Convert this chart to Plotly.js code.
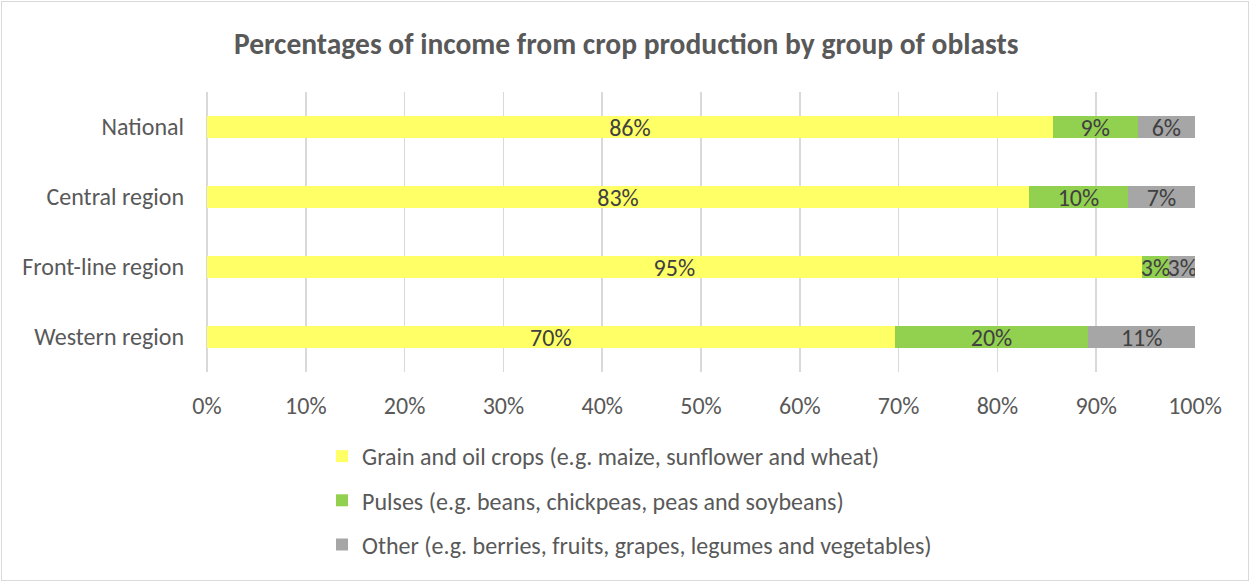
<!DOCTYPE html>
<html>
<head>
<meta charset="utf-8">
<script src="https://cdn.plot.ly/plotly-3.0.1.min.js"></script>
<style>
  html, body { margin: 0; padding: 0; background: #ffffff; }
  #wrap { position: relative; width: 1250px; height: 582px; }
  #chart { width: 1250px; height: 582px; }
  #frame { position: absolute; left: 1px; top: 1px; width: 1246px; height: 578px;
           border: 1px solid #d9d9d9; pointer-events: none; }
</style>
</head>
<body>
<div id="wrap">
  <div id="chart"></div>
  <div id="frame"></div>
</div>
<script>
const categories = ["National", "Central region", "Front-line region", "Western region"];
const grainOil = [85.6, 83.2, 94.6, 69.6];
const pulses = [8.6, 10.0, 2.8, 19.6];
const other = [5.8, 6.8, 2.6, 10.8];
const seriesNames = [
  "Grain and oil crops (e.g. maize, sunflower and wheat)",
  "Pulses (e.g. beans, chickpeas, peas and soybeans)",
  "Other (e.g. berries, fruits, grapes, legumes and vegetables)"
];
const seriesColors = ["#ffff66", "#92d050", "#a6a6a6"];
const xTickVals = [0, 10, 20, 30, 40, 50, 60, 70, 80, 90, 100];
const xTickText = ["0%", "10%", "20%", "30%", "40%", "50%", "60%", "70%", "80%", "90%", "100%"];

const FONT = "Carlito, Calibri, Lato, sans-serif";
const seriesValues = [grainOil, pulses, other];

const traces = seriesValues.map((vals, i) => ({
  type: "bar",
  orientation: "h",
  name: seriesNames[i],
  y: categories,
  x: vals,
  marker: { color: seriesColors[i], line: { width: 0 } },
  texttemplate: "%{x:.0f}%",
  textposition: "inside",
  insidetextanchor: "middle",
  constraintext: "none",
  textfont: { family: FONT, size: 24, color: "#404040" },
  legendgroup: "g" + i,
  hoverinfo: "skip"
}));

const layout = {
  width: 1250,
  height: 582,
  paper_bgcolor: "#ffffff",
  plot_bgcolor: "#ffffff",
  barmode: "stack",
  bargap: 0.686,
  margin: { l: 207, r: 55, t: 92, b: 210, pad: 0 },
  font: { family: FONT, color: "#595959", size: 24 },
  title: {
    text: "<b>Percentages of income from crop production by group of oblasts</b>",
    font: { family: FONT, size: 29.5, color: "#595959" },
    x: 0.501, xref: "container", xanchor: "center",
    y: 1 - 44 / 582, yref: "container", yanchor: "middle"
  },
  xaxis: {
    range: [0, 100],
    tickmode: "array",
    tickvals: xTickVals,
    ticktext: xTickText,
    showgrid: true,
    gridcolor: "#d9d9d9",
    gridwidth: 1.5,
    zeroline: true,
    zerolinecolor: "#d9d9d9",
    zerolinewidth: 1.5,
    showline: false,
    ticks: "",
    ticklabelstandoff: 17,
    tickfont: { family: FONT, size: 24, color: "#595959" },
    fixedrange: true
  },
  yaxis: {
    type: "category",
    autorange: "reversed",
    showgrid: false,
    zeroline: false,
    showline: false,
    ticks: "",
    ticklabelstandoff: 22,
    tickfont: { family: FONT, size: 24, color: "#595959" },
    fixedrange: true
  },
  showlegend: true,
  legend: {
    orientation: "v",
    traceorder: "grouped",
    tracegroupgap: 10,
    x: (322 - 207) / 988,
    xanchor: "left",
    y: (372 - 434) / 280,
    yanchor: "top",
    font: { family: FONT, size: 24, color: "#595959" },
    itemwidth: 30,
    bgcolor: "rgba(0,0,0,0)"
  }
};

Plotly.newPlot("chart", traces, layout, { displayModeBar: false, staticPlot: true });
</script>
</body>
</html>
